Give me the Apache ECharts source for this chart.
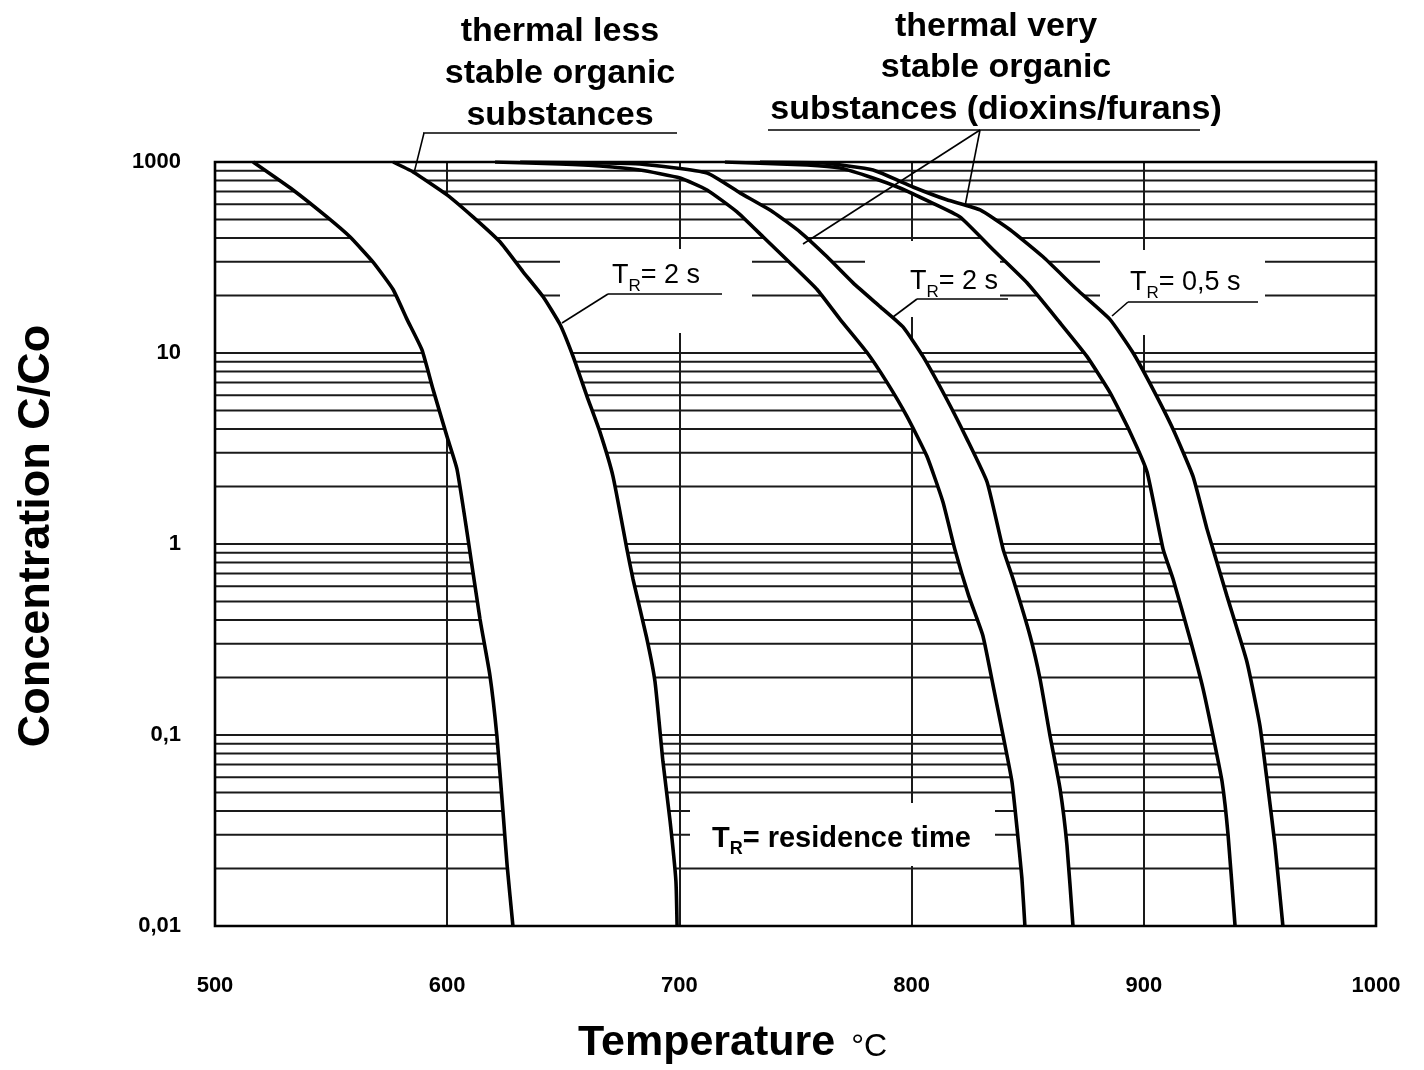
<!DOCTYPE html>
<html><head><meta charset="utf-8">
<script src="https://cdn.jsdelivr.net/npm/echarts@6/dist/echarts.min.js"></script>
<style>html,body{margin:0;padding:0;background:#fff}#c{width:1424px;height:1070px}</style>
</head><body><div id="c"></div>
<script>
// ---- axis ticks ----
const xTicks = [500, 600, 700, 800, 900, 1000];
const yTickLabels = ['0,01', '0,1', '1', '10', '1000'];
const minorMultiples = [2, 3, 4, 5, 6, 7, 8, 9];
const decades = [0.01, 0.1, 1, 10];

// ---- thermal less stable organic substances (left band) ----
const lessA_T = [516.4, 533.6, 548.2, 558.1, 568.0, 576.7, 582.7, 589.1, 593.9, 599.9, 604.2, 608.5, 614.1, 618.4, 621.4, 624.0, 625.8, 628.3];
const lessA_C = [100, 71.4, 51.6, 40.6, 30.0, 21.5, 15.0, 10.4, 6.45, 3.66, 2.47, 1.16, 0.406, 0.205, 0.099, 0.040, 0.0208, 0.01];
const lessB_T = [576.7, 585.3, 599.9, 611.1, 622.7, 632.6, 641.3, 648.6, 654.2, 660.2, 665.8, 671.4, 677.4, 680.0, 686.0, 689.5, 692.9, 696.0, 698.5, 699.0];
const lessB_C = [100, 88.7, 67.3, 51.6, 38.2, 26.7, 19.7, 14.1, 9.6, 5.93, 3.85, 2.26, 0.94, 0.656, 0.319, 0.190, 0.0728, 0.0353, 0.0172, 0.01];

// ---- thermal very stable, TR = 2 s (middle band) ----
const midA_T = [620.6, 648.6, 665.8, 683.0, 700.3, 711.9, 724.8, 736.0, 747.6, 759.3, 769.2, 780.8, 789.4, 798.0, 806.6, 813.5, 818.6, 824.6, 830.7, 835.1, 839.4, 843.2, 845.4, 847.5, 848.8];
const midA_C = [100, 97.6, 95.3, 90.8, 82.5, 71.4, 54.8, 40.6, 29.7, 21.5, 15.0, 10.06, 7.02, 4.66, 2.88, 1.66, 0.94, 0.535, 0.331, 0.1815, 0.0993, 0.0571, 0.0325, 0.0178, 0.01];
const midB_T = [631.4, 665.8, 683.0, 711.9, 726.1, 740.3, 751.9, 763.6, 774.8, 786.4, 796.3, 804.9, 815.2, 823.9, 832.5, 839.4, 843.7, 851.0, 855.3, 859.6, 863.9, 866.9, 869.5];
const midB_C = [100, 98.8, 97.6, 87.6, 68.9, 54.8, 43.1, 31.9, 23.3, 17.5, 13.7, 9.6, 5.71, 3.53, 2.11, 0.94, 0.656, 0.331, 0.197, 0.0993, 0.0526, 0.0265, 0.01];

// ---- thermal very stable, TR = 0,5 s (right band) ----
const rightA_T = [719.6, 755.0, 769.2, 783.4, 795.0, 807.9, 820.8, 835.1, 849.7, 863.9, 875.5, 885.4, 894.1, 901.4, 908.3, 912.6, 919.9, 925.5, 929.8, 933.7, 936.3, 939.3];
const rightA_C = [100, 96.5, 93.0, 82.5, 73.1, 61.8, 51.6, 34.7, 23.3, 14.4, 9.6, 6.22, 3.85, 2.38, 0.94, 0.656, 0.319, 0.175, 0.0993, 0.0571, 0.0299, 0.01];
const rightB_T = [734.7, 761.8, 783.4, 800.6, 815.2, 829.5, 842.4, 856.6, 871.2, 885.4, 895.3, 904.0, 912.6, 921.2, 927.2, 929.8, 935.8, 944.4, 950.0, 953.5, 956.5, 959.9];
const rightB_C = [100, 98.8, 90.8, 74.0, 63.4, 56.1, 44.2, 31.9, 21.5, 15.0, 10.06, 6.45, 3.99, 2.26, 1.20, 0.94, 0.535, 0.242, 0.112, 0.0526, 0.0265, 0.01];

const F = "'Liberation Sans', Arial, Helvetica, sans-serif";
const zip = (a, b) => a.map((t, i) => [t, b[i]]);
const curves = [[lessA_T, lessA_C], [lessB_T, lessB_C], [midA_T, midA_C], [midB_T, midB_C], [rightA_T, rightA_C], [rightB_T, rightB_C]];
const bands = [[curves[0], curves[1]], [curves[2], curves[3]], [curves[4], curves[5]]];
const minorValues = [];
decades.forEach(d => minorMultiples.forEach(m => minorValues.push(d * m)));

const chart = echarts.init(document.getElementById('c'), null, {renderer: 'canvas'});

function trLabel(x, y, rest, size, weight) {
  const lh = size + 1;
  return {
    type: 'text', x: x, y: y, z: 6, silent: true,
    style: {
      text: '{m|T}{s|R}{m|' + rest + '}', align: 'left', verticalAlign: 'top',
      rich: {
        m: {fontFamily: F, fontSize: size, fontWeight: weight, lineHeight: lh, verticalAlign: 'top', fill: '#000'},
        s: {fontFamily: F, fontSize: Math.round(size * 0.62), fontWeight: weight, lineHeight: 2 * (lh / 2 + 10), verticalAlign: 'middle', fill: '#000'}
      }
    }
  };
}
function seg(x1, y1, x2, y2, w) {
  return {type: 'line', z: 6, silent: true, shape: {x1, y1, x2, y2}, style: {stroke: '#000', lineWidth: w || 1.6}};
}
function box(x, y, w, h) {
  return {type: 'rect', z: 3, silent: true, shape: {x, y, width: w, height: h}, style: {fill: '#fff'}};
}

const series = [
  {
    type: 'custom', z: 1, silent: true, animation: false,
    data: minorValues.map(v => [xTicks[0], v]),
    renderItem: function (params, api) {
      const cs = params.coordSys;
      const y = api.coord([xTicks[0], api.value(1)])[1];
      return {type: 'line', shape: {x1: cs.x, y1: y, x2: cs.x + cs.width, y2: y}, style: {stroke: '#1a1a1a', lineWidth: 2}};
    }
  },
  {
    type: 'custom', z: 2, silent: true, animation: false,
    data: bands.map((b, i) => [xTicks[0], 1, i]),
    encode: {x: 0, y: 1},
    renderItem: function (params, api) {
      const b = bands[api.value(2)];
      const pts = [];
      const L = b[0], R = b[1];
      for (let i = 0; i < L[0].length; i++) pts.push(api.coord([L[0][i], L[1][i]]));
      for (let i = R[0].length - 1; i >= 0; i--) pts.push(api.coord([R[0][i], R[1][i]]));
      return {type: 'polygon', shape: {points: pts}, style: {fill: '#fff'}};
    }
  }
];
curves.forEach(c => series.push({
  type: 'line', z: 4, silent: true, animation: false, showSymbol: false, smooth: 0.15,
  data: zip(c[0], c[1]),
  lineStyle: {color: '#000', width: 3.6}
}));

chart.setOption({
  backgroundColor: '#fff',
  animation: false,
  grid: {left: 215, right: 48, top: 162, bottom: 142, show: true, z: 10, borderColor: '#000', borderWidth: 2.6, backgroundColor: 'transparent'},
  xAxis: {
    type: 'value', min: xTicks[0], max: xTicks[xTicks.length - 1], interval: 100,
    axisLine: {show: false}, axisTick: {show: false},
    splitLine: {show: true, lineStyle: {color: '#1a1a1a', width: 2}},
    axisLabel: {fontFamily: F, fontSize: 22, fontWeight: 'bold', color: '#000', margin: 49, formatter: v => String(v)},
    name: '{a|Temperature}{b|°C}', nameLocation: 'middle', nameGap: 96,
    nameTextStyle: {padding: [0, 126, 0, 0], rich: {
      a: {fontFamily: F, fontSize: 43, fontWeight: 'bold', color: '#000'},
      b: {fontFamily: F, fontSize: 32, color: '#000', padding: [8, 0, 0, 16]}}}
  },
  yAxis: {
    type: 'log', logBase: 10, min: 0.01, max: 100,
    axisLine: {show: false}, axisTick: {show: false},
    splitLine: {show: true, lineStyle: {color: '#1a1a1a', width: 2}},
    axisLabel: {fontFamily: F, fontSize: 22, fontWeight: 'bold', color: '#000', margin: 34,
      formatter: v => yTickLabels[Math.round(Math.log10(v)) + 2]},
    name: 'Concentration C/Co', nameLocation: 'middle', nameGap: 156, nameRotate: 90,
    nameTextStyle: {fontFamily: F, fontSize: 45, fontWeight: 'bold', color: '#000', padding: [0, 0, 0, 16]}
  },
  series: series,
  graphic: [
    box(560, 249, 192, 84),
    box(865, 241, 135, 76),
    box(1100, 250, 165, 85),
    box(690, 803, 305, 63),
    {type: 'text', x: 560, y: 74, z: 6, silent: true, style: {text: 'thermal less\nstable organic\nsubstances', align: 'center', verticalAlign: 'middle', fontFamily: F, fontSize: 34, fontWeight: 'bold', lineHeight: 42, fill: '#000'}},
    {type: 'text', x: 996, y: 68, z: 6, silent: true, style: {text: 'thermal very\nstable organic\nsubstances (dioxins/furans)', align: 'center', verticalAlign: 'middle', fontFamily: F, fontSize: 34, fontWeight: 'bold', lineHeight: 41.5, fill: '#000'}},
    seg(423, 133, 677, 133), seg(424, 133, 414, 173),
    seg(768, 130, 1200, 130), seg(980, 130, 803, 244), seg(980, 130, 965, 206),
    trLabel(612, 262, '= 2 s', 27, 'normal'),
    seg(608, 294, 722, 294), seg(608, 294, 562, 323),
    trLabel(910, 268.5, '= 2 s', 27, 'normal'),
    seg(917, 299, 1008, 299), seg(917, 299, 893, 317),
    trLabel(1130, 269, '= 0,5 s', 27, 'normal'),
    seg(1128, 302, 1258, 302), seg(1128, 302, 1112, 316),
    trLabel(712, 824.5, '= residence time', 29, 'bold')
  ]
});
</script></body></html>
